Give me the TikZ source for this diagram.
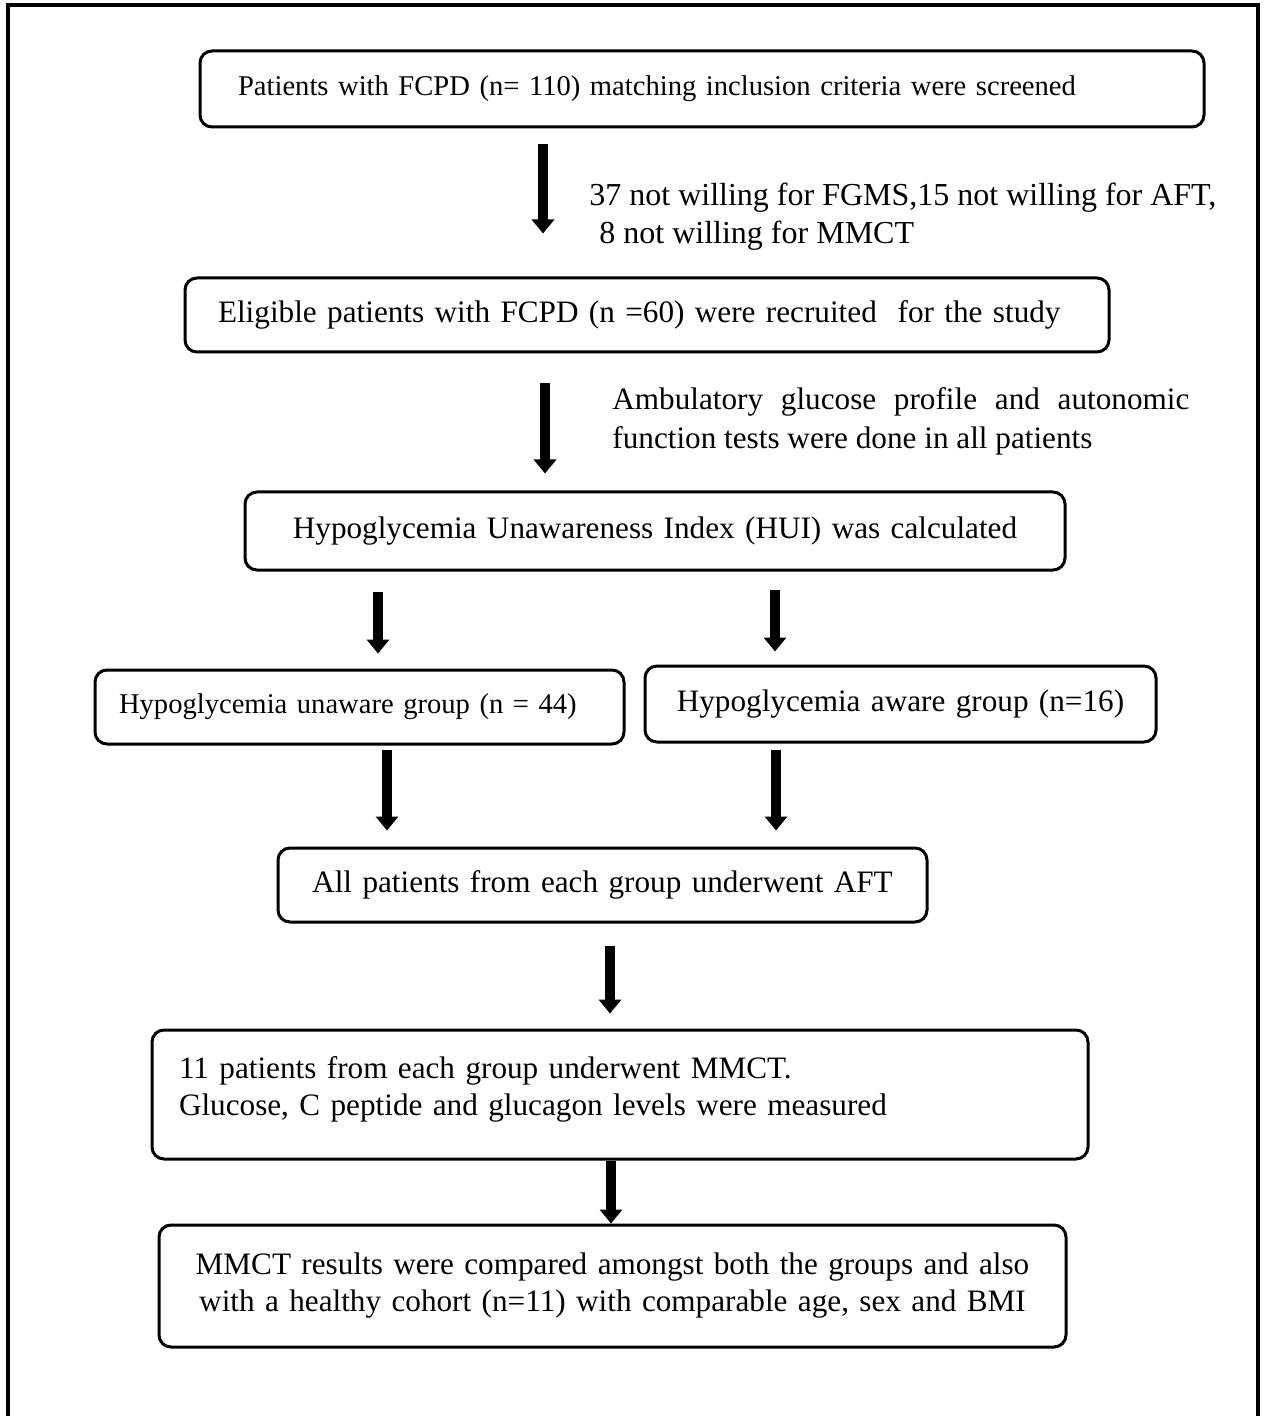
\documentclass[tikz,border=0pt]{standalone}
\usepackage{fontspec}
\setmainfont{Liberation Serif}
\usetikzlibrary{arrows.meta}
\begin{document}
\begin{tikzpicture}[x=0.5pt,y=-0.5pt,
  box/.style={draw, line width=1.5pt, rounded corners=6pt, inner ysep=0pt,
    font=\fontsize{15.6pt}{18.5pt}\selectfont},
  side/.style={inner sep=0pt, font=\fontsize{15.6pt}{19.5pt}\selectfont},
  bigarrow/.style={line width=5pt, -{Triangle[width=11pt,length=7pt]}}]
\useasboundingbox (0,0) rectangle (1264,1416);
\draw[line width=1.8pt] (8,1420) -- (8,5) -- (1258,5) -- (1258,1420);

\node[box, minimum width=502pt, minimum height=38pt, inner xsep=19pt, text width=464pt, align=left,
  font=\fontsize{14.3pt}{17pt}\selectfont]
  (b1) at (702,89) {Patients with FCPD (n= 110) matching inclusion criteria were screened};
\node[box, minimum width=462pt, minimum height=37pt, inner xsep=16.5pt, text width=429pt, align=left]
  (b2) at (647,315) {Eligible patients with FCPD (n =60) were recruited\ \ for the study};
\node[box, minimum width=410pt, minimum height=39pt, inner xsep=15pt, text width=380pt, align=center]
  (b3) at (655,531) {Hypoglycemia Unawareness Index (HUI) was calculated};
\node[box, minimum width=264.5pt, minimum height=37pt, inner xsep=12pt, text width=240.5pt, align=left,
  font=\fontsize{14.3pt}{17pt}\selectfont]
  (b4a) at (359.5,707) {Hypoglycemia unaware group (n = 44)};
\node[box, minimum width=255.5pt, minimum height=38pt, inner xsep=12pt, text width=231.5pt, align=center]
  (b4b) at (900.5,704) {Hypoglycemia aware group (n=16)};
\node[box, minimum width=324.5pt, minimum height=37pt, inner xsep=12pt, text width=300.5pt, align=center]
  (b5) at (602.5,885) {All patients from each group underwent AFT};
\node[box, minimum width=468pt, minimum height=64.5pt, inner xsep=13.5pt, text width=441pt, align=left]
  (b6) at (620,1094.5) {11 patients from each group underwent MMCT.\\Glucose, C peptide and glucagon levels were measured\\[-10pt]\mbox{}};
\node[box, minimum width=453.5pt, minimum height=61pt, inner xsep=12pt, text width=429.5pt, align=center]
  (b7) at (612.5,1286) {MMCT results were compared amongst both the groups and also\\with a healthy cohort (n=11) with comparable age, sex and BMI};

\node[side, anchor=west, align=left, font=\fontsize{16pt}{19pt}\selectfont] (s1) at (589,217)
  {37 not willing for FGMS,15 not willing for AFT,\\\hspace*{5pt}8 not willing for MMCT};
\node[side, anchor=west, text width=288.5pt, align=justify] (s2) at (612,421)
  {Ambulatory glucose profile and autonomic\linebreak function tests were done in all patients};

\coordinate (x1) at (543,0);
\coordinate (x2) at (545,0);
\coordinate (x3) at (378,0);
\coordinate (x4) at (775,0);
\coordinate (x5) at (387,0);
\coordinate (x6) at (776,0);
\coordinate (x7) at (610,0);
\coordinate (x8) at (611,0);

\draw[bigarrow, shorten <=8pt, shorten >=21.5pt] (b1.south -| x1) -- (b2.north -| x1);
\draw[bigarrow, shorten <=15pt, shorten >=8.5pt] (b2.south -| x2) -- (b3.north -| x2);
\draw[bigarrow, shorten <=10pt, shorten >=7.5pt] (b3.south -| x3) -- (b4a.north -| x3);
\draw[bigarrow, shorten <=9pt, shorten >=6.5pt] (b3.south -| x4) -- (b4b.north -| x4);
\draw[bigarrow, shorten <=2pt, shorten >=8pt] (b4a.south -| x5) -- (b5.north -| x5);
\draw[bigarrow, shorten <=3pt, shorten >=8pt] (b4b.south -| x6) -- (b5.north -| x6);
\draw[bigarrow, shorten <=11pt, shorten >=7.5pt] (b5.south -| x7) -- (b6.north -| x7);
\draw[bigarrow, shorten <=0pt, shorten >=0pt] (b6.south -| x8) -- (b7.north -| x8);
\end{tikzpicture}
\end{document}
